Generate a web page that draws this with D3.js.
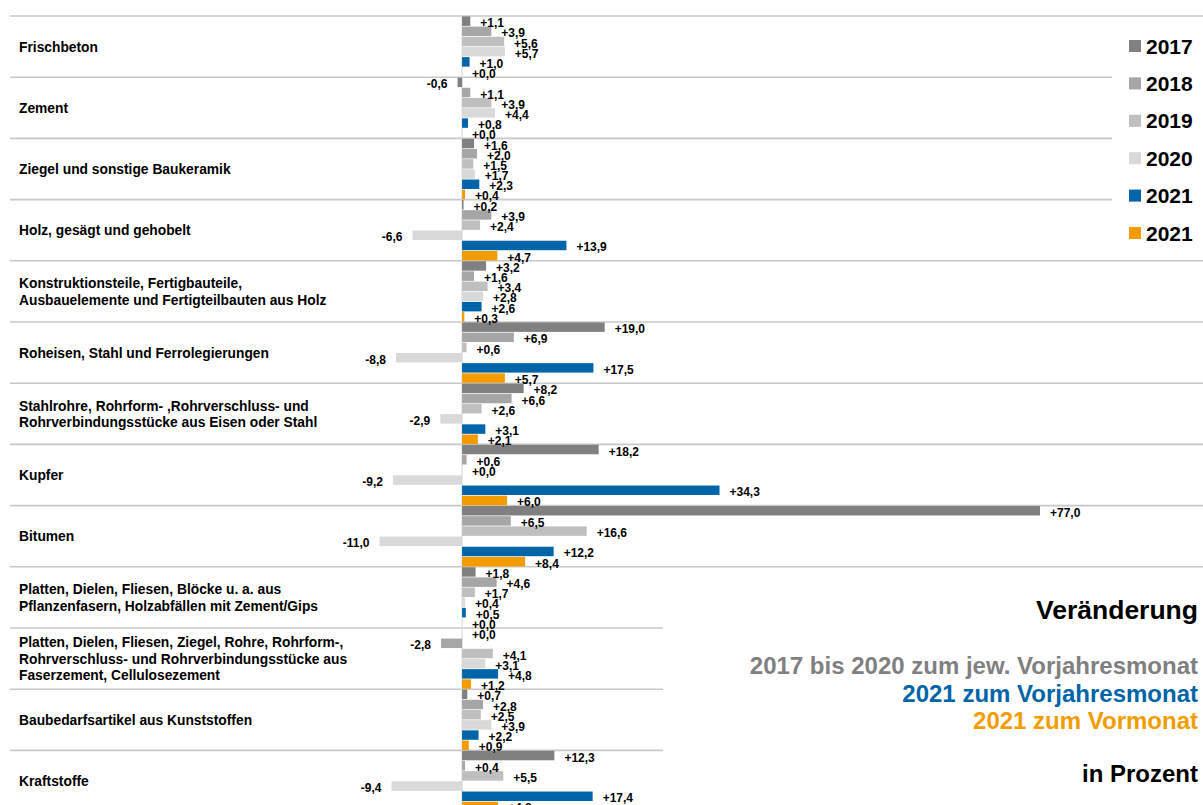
<!DOCTYPE html>
<html>
<head>
<meta charset="utf-8">
<script src="https://cdn.jsdelivr.net/npm/d3@7"></script>
<style>
  body { margin: 0; background: #fff; }
  svg { display: block; font-family: "Liberation Sans", Arial, sans-serif; font-weight: bold; }
</style>
</head>
<body>
<script>
// Categories (line breaks as in the original)
var categories = [
    'Frischbeton',
    'Zement',
    'Ziegel und sonstige Baukeramik',
    'Holz, gesägt und gehobelt',
    'Konstruktionsteile, Fertigbauteile,\nAusbauelemente und Fertigteilbauten aus Holz',
    'Roheisen, Stahl und Ferrolegierungen',
    'Stahlrohre, Rohrform- ,Rohrverschluss- und\nRohrverbindungsstücke aus Eisen oder Stahl',
    'Kupfer',
    'Bitumen',
    'Platten, Dielen, Fliesen, Blöcke u. a. aus\nPflanzenfasern, Holzabfällen mit Zement/Gips',
    'Platten, Dielen, Fliesen, Ziegel, Rohre, Rohrform-,\nRohrverschluss- und Rohrverbindungsstücke aus\nFaserzement, Cellulosezement',
    'Baubedarfsartikel aus Kunststoffen',
    'Kraftstoffe'
];

// Series values (percent change)
var v2017   = [1.1, -0.6, 1.6, 0.2, 3.2, 19.0, 8.2, 18.2, 77.0, 1.8, 0.0, 0.7, 12.3];
var v2018   = [3.9, 1.1, 2.0, 3.9, 1.6, 6.9, 6.6, 0.6, 6.5, 4.6, -2.8, 2.8, 0.4];
var v2019   = [5.6, 3.9, 1.5, 2.4, 3.4, 0.6, 2.6, 0.0, 16.6, 1.7, 4.1, 2.5, 5.5];
var v2020   = [5.7, 4.4, 1.7, -6.6, 2.8, -8.8, -2.9, -9.2, -11.0, 0.4, 3.1, 3.9, -9.4];
var v2021Vj = [1.0, 0.8, 2.3, 13.9, 2.6, 17.5, 3.1, 34.3, 12.2, 0.5, 4.8, 2.2, 17.4];
var v2021Vm = [0.0, 0.0, 0.4, 4.7, 0.3, 5.7, 2.1, 6.0, 8.4, 0.0, 1.2, 0.9, 4.8];

var seriesNames = ['2017', '2018', '2019', '2020', '2021', '2021'];
var seriesValues = [v2017, v2018, v2019, v2020, v2021Vj, v2021Vm];

// Annotation texts
var noteTitle = 'Veränderung';
var noteLines = ['2017 bis 2020 zum jew. Vorjahresmonat', '2021 zum Vorjahresmonat', '2021 zum Vormonat'];
var noteUnit = 'in Prozent';

// Style configuration
var colors = ['#808080', '#a6a6a6', '#bfbfbf', '#d9d9d9', '#0064a8', '#f39c00'],
    noteColors = ['#808080', '#0064a8', '#f39c00'],
    gridColor = '#c8c8c8';

var width = 1203, height = 805;

var svg = d3.select('body').append('svg')
    .attr('width', width)
    .attr('height', height);

// Scales
var x = d3.scaleLinear().domain([-11, 77]).range([379.5, 1040]);
var y = d3.scaleBand().domain(d3.range(categories.length)).range([16, 16 + 61.2 * categories.length]);
var ySub = d3.scaleBand().domain(d3.range(seriesNames.length))
    .range([0, y.bandwidth()])
    .paddingInner(0.07)
    .paddingOuter(0.04);

// Separator lines between categories
svg.append('g').selectAll('line')
    .data(d3.range(categories.length))
    .enter().append('line')
    .attr('x1', 10)
    .attr('x2', function(i) { return i >= 10 ? 663 : width; })
    .attr('y1', function(i) { return y(i); })
    .attr('y2', function(i) { return y(i); })
    .attr('stroke', gridColor)
    .attr('stroke-width', 1.6);

// Zero line
svg.append('line')
    .attr('x1', x(0)).attr('x2', x(0))
    .attr('y1', y(0)).attr('y2', height)
    .attr('stroke', '#d4d4d4')
    .attr('stroke-width', 1);

// Category labels
var catLabels = svg.append('g').selectAll('text')
    .data(categories)
    .enter().append('text')
    .attr('x', 19)
    .attr('font-size', 13.8)
    .attr('fill', '#000');

catLabels.each(function(d, i) {
    var lines = d.split('\n'),
        lh = 16.5,
        cy = y(i) + y.bandwidth() / 2 - (lines.length - 1) * lh / 2;
    d3.select(this).selectAll('tspan')
        .data(lines)
        .enter().append('tspan')
        .attr('x', 19)
        .attr('y', function(l, k) { return cy + k * lh; })
        .attr('dy', '0.36em')
        .text(function(l) { return l; });
});

// Flatten to one record per bar
var bars = [];
categories.forEach(function(c, i) {
    seriesValues.forEach(function(vals, s) {
        bars.push({cat: i, s: s, v: vals[i]});
    });
});

function fmt(v) {
    return (v < 0 ? '-' : '+') + Math.abs(v).toFixed(1).replace('.', ',');
}

var barG = svg.append('g');
barG.selectAll('rect')
    .data(bars)
    .enter().append('rect')
    .attr('x', function(d) { return x(Math.min(0, d.v)); })
    .attr('y', function(d) { return y(d.cat) + ySub(d.s); })
    .attr('width', function(d) { return Math.abs(x(d.v) - x(0)); })
    .attr('height', ySub.bandwidth())
    .attr('fill', function(d) { return colors[d.s]; });

// Value labels (sit a little below the bar centre, as in the original)
barG.selectAll('text')
    .data(bars)
    .enter().append('text')
    .attr('x', function(d) { return d.v < 0 ? x(d.v) - 10 : x(d.v) + 10; })
    .attr('y', function(d) { return y(d.cat) + ySub(d.s) + ySub.bandwidth() / 2; })
    .attr('dy', '0.5em')
    .attr('text-anchor', function(d) { return d.v < 0 ? 'end' : 'start'; })
    .attr('font-size', 12)
    .attr('fill', '#000')
    .text(function(d) { return fmt(d.v); });

// White boxes behind legend and note (cover grid lines)
svg.append('rect').attr('x', 1112).attr('y', 20).attr('width', 91).attr('height', 230).attr('fill', '#fff');
svg.append('rect').attr('x', 663).attr('y', 575).attr('width', 540).attr('height', 230).attr('fill', '#fff');

// Legend
var legend = svg.append('g').selectAll('g')
    .data(seriesNames)
    .enter().append('g')
    .attr('transform', function(d, i) { return 'translate(1129,' + (46 + i * 37.4) + ')'; });

legend.append('rect')
    .attr('x', 0).attr('y', -6)
    .attr('width', 12).attr('height', 12)
    .attr('fill', function(d, i) { return colors[i]; });

legend.append('text')
    .attr('x', 17)
    .attr('y', 7.5)
    .attr('font-size', 21)
    .attr('fill', '#000')
    .text(function(d) { return d; });

// Note on the lower right
var note = svg.append('g').attr('text-anchor', 'end');

note.append('text')
    .attr('x', 1198).attr('y', 619)
    .attr('font-size', 26.5)
    .attr('fill', '#000')
    .text(noteTitle);

note.selectAll('.noteLine')
    .data(noteLines)
    .enter().append('text')
    .attr('class', 'noteLine')
    .attr('x', 1198)
    .attr('y', function(d, i) { return 674 + i * 27.5; })
    .attr('font-size', 24)
    .attr('fill', function(d, i) { return noteColors[i]; })
    .text(function(d) { return d; });

note.append('text')
    .attr('x', 1198).attr('y', 782)
    .attr('font-size', 24)
    .attr('fill', '#000')
    .text(noteUnit);
</script>
</body>
</html>
